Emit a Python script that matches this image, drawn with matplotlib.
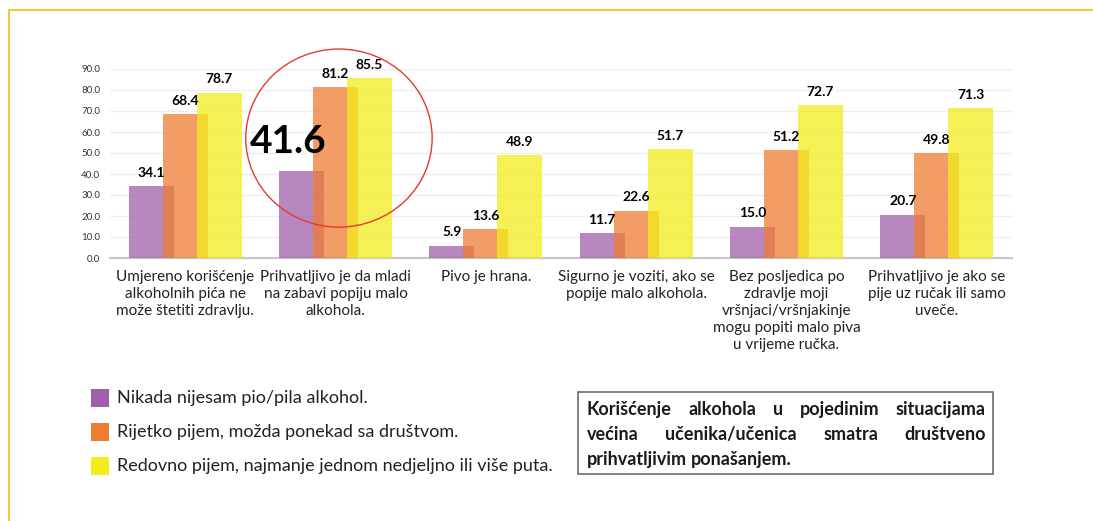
import matplotlib

matplotlib.use("Agg")
import matplotlib.pyplot as plt  # noqa: E402
import numpy as np  # noqa: E402
from matplotlib.lines import Line2D  # noqa: E402
from matplotlib.patches import Ellipse, Rectangle  # noqa: E402

W, H = 1093, 521

CATEGORIES = [
    "Umjereno korišćenje\nalkoholnih pića ne\nmože štetiti zdravlju.",
    "Prihvatljivo je da mladi\nna zabavi popiju malo\nalkohola.",
    "Pivo je hrana.",
    "Sigurno je voziti, ako se\npopije malo alkohola.",
    "Bez posljedica po\nzdravlje moji\nvršnjaci/vršnjakinje\nmogu popiti malo piva\nu vrijeme ručka.",
    "Prihvatljivo je ako se\npije uz ručak ili samo\nuveče.",
]
SERIES = [
    "Nikada nijesam pio/pila alkohol.",
    "Rijetko pijem, možda ponekad sa društvom.",
    "Redovno pijem, najmanje jednom nedjeljno ili više puta.",
]
NEVER = [34.1, 41.6, 5.9, 11.7, 15.0, 20.7]
RARELY = [68.4, 81.2, 13.6, 22.6, 51.2, 49.8]
REGULAR = [78.7, 85.5, 48.9, 51.7, 72.7, 71.3]
YTICKS = [0, 10, 20, 30, 40, 50, 60, 70, 80, 90]
HIGHLIGHT = 1  # kategorija/serija 0 s velikim brojem i krugom
NOTE_LINES = [
    "Korišćenje alkohola u pojedinim situacijama",
    "većina učenika/učenica smatra društveno",
    "prihvatljivim ponašanjem.",
]

COLORS = ["#A05FAA", "#EE7D31", "#F2EC1C"]
INK = "#1a1a1a"
FONT = ["Lato", "DejaVu Sans"]

plt.rcParams.update({"font.family": FONT, "text.color": INK})


def fx(x):
    return x / W


def fy(y):
    return 1 - y / H


fig = plt.figure(figsize=(W / 100, H / 100), dpi=100)
fig.patch.set_facecolor("white")

# okvir (žuta linija gore i lijevo)
fig.add_artist(Line2D([fx(9), fx(9), fx(W)], [fy(520), fy(10), fy(10)],
                      transform=fig.transFigure, color="#F5C730", lw=1.4))

ax = fig.add_axes([fx(110), fy(258), 902 / W, 189 / H])
x = np.arange(len(CATEGORIES))
w, off = 0.30, 0.226
series = [NEVER, RARELY, REGULAR]
for i, (vals, c) in enumerate(zip(series, COLORS)):
    xs = x + (i - 1) * off
    ax.bar(xs, vals, w, color=c, alpha=0.75, lw=0, zorder=3)
    for j, (xx, v) in enumerate(zip(xs, vals)):
        if i == 0 and j == HIGHLIGHT:
            ax.annotate(f"{v:.1f}", (xx, v), xytext=(-10, 21), textcoords="offset points",
                        ha="center", va="center", fontsize=28, fontweight="bold",
                        color="black", zorder=5)
            continue
        ax.annotate(f"{v:.1f}", (xx, v), xytext=(0, 5.5), textcoords="offset points",
                    ha="center", va="bottom", fontsize=10, fontweight="bold",
                    color="black", zorder=5)

ax.add_patch(Ellipse((HIGHLIGHT + 0.023, 57.1), 1.24, 84.8, fill=False,
                     ec="#E8392B", lw=1.0, clip_on=False, zorder=6))

ax.set_xlim(-0.5, len(CATEGORIES) - 0.5)
ax.set_ylim(0, 90)
ax.set_yticks(YTICKS)
ax.set_yticklabels([f"{v:.1f}" for v in YTICKS], fontsize=7, color="#333")
ax.set_xticks(x)
ax.set_xticklabels(CATEGORIES, fontsize=11, linespacing=1.25, color="#222")
ax.tick_params(axis="both", length=0)
ax.tick_params(axis="y", pad=7)
ax.tick_params(axis="x", pad=9)
ax.yaxis.grid(True, color="#EFEFEF", lw=1.0, zorder=0)
ax.set_axisbelow(True)
for s in ("top", "right", "left"):
    ax.spines[s].set_visible(False)
ax.spines["bottom"].set_color("#C8C8C8")
ax.spines["bottom"].set_linewidth(1.6)
ax.set_facecolor("none")

# legenda (ručno)
for k, (lab, c) in enumerate(zip(SERIES, COLORS)):
    yc = 398 + k * 34
    fig.add_artist(Rectangle((fx(91), fy(yc + 9)), 18 / W, 18 / H,
                             transform=fig.transFigure, fc=c, ec="none"))
    fig.text(fx(117), fy(yc), lab, fontsize=13, va="center", ha="left", color="#222")

# okvir s napomenom, obostrano poravnat tekst
fig.add_artist(Rectangle((fx(578), fy(474)), (993 - 578) / W, (474 - 392) / H,
                         transform=fig.transFigure, fc="none", ec="#6b6b6b", lw=1.2))
renderer = fig.canvas.get_renderer()
x0, x1 = 587, 986
for n, line in enumerate(NOTE_LINES):
    yb = fy(415 + n * 25)
    words = line.split()
    ts = [fig.text(0, yb, wd, fontsize=13, fontweight="bold", va="baseline", ha="left")
          for wd in words]
    widths = [t.get_window_extent(renderer).width for t in ts]
    if n == len(NOTE_LINES) - 1 or len(words) == 1:
        sp = ts[0].get_window_extent(renderer).height * 0.25
    else:
        sp = (x1 - x0 - sum(widths)) / (len(words) - 1)
    cur = x0
    for t, wd in zip(ts, widths):
        t.set_x(fx(cur))
        cur += wd + sp

fig.savefig("out.png", dpi=100, facecolor="white")
